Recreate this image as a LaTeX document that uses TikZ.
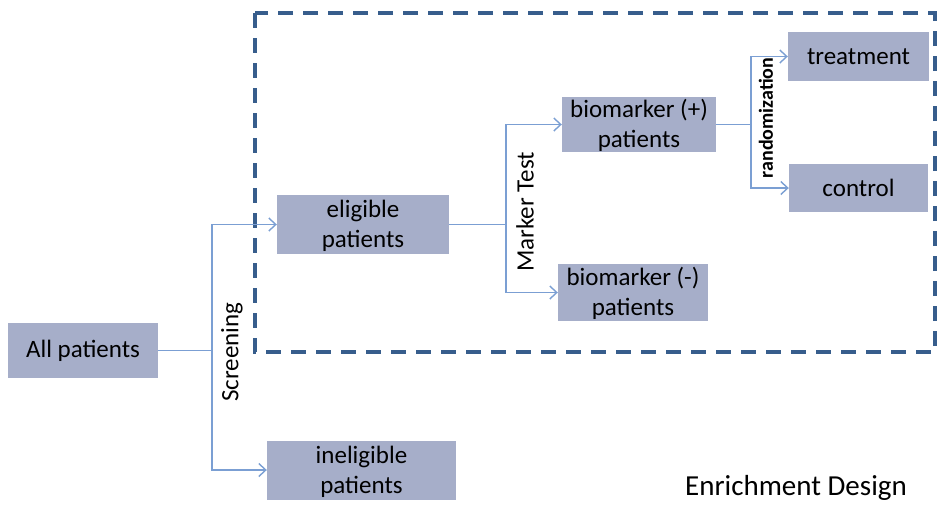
\documentclass[tikz,border=0pt]{standalone}
\usepackage{fontspec}
\setmainfont{Carlito}
\usetikzlibrary{arrows.meta}
\definecolor{boxfill}{HTML}{A6AEC9}
\definecolor{linkblue}{HTML}{7B9FD3}
\definecolor{frameblue}{HTML}{375D8C}
\tikzset{
  group/.style={fill=boxfill, align=center, inner sep=0pt, font=\fontsize{25}{30}\selectfont},
  link/.style={draw=linkblue, line width=1.4pt},
  linkarrow/.style={link, -{Straight Barb[length=7pt,width=13pt]}},
  steplabel/.style={rotate=90, font=\fontsize{25}{28}\selectfont}
}
\begin{document}
\begin{tikzpicture}[x=1pt,y=-1pt]
\useasboundingbox (0,0) rectangle (941,504);
% enrichment frame
\draw[frameblue, line width=3.2pt, dash pattern=on 15pt off 10pt] (255,13) rectangle (935,352);
% groups of patients
\node[group, minimum width=150pt, minimum height=55pt] (all) at (83,350.5) {All patients};
\node[group, minimum width=172pt, minimum height=59pt] (elig) at (363,224.5) {\strut eligible\\patients};
\node[group, minimum width=189pt, minimum height=59pt] (inel) at (361.5,470) {\strut ineligible\\patients};
\node[group, minimum width=154pt, minimum height=55pt] (bmp) at (639,124.5) {\strut biomarker (+)\\patients};
\node[group, minimum width=150pt, minimum height=57pt] (bmm) at (633,292.5) {\strut biomarker (-)\\patients};
\node[group, minimum width=141pt, minimum height=49pt] (treat) at (858.5,56.5) {treatment};
\node[group, minimum width=139pt, minimum height=48pt] (ctrl) at (858.5,188) {control};
% screening
\coordinate (scr) at (212,350.5);
\draw[link] (all.east) -- (scr);
\draw[linkarrow] (scr) |- (elig.west);
\draw[linkarrow] (scr) |- (inel.west);
\node[steplabel] (scrlbl) at (232,352) {Screening};
% marker test
\coordinate (mk) at (506,224.5);
\draw[link] (elig.east) -- (mk);
\draw[linkarrow] (mk) |- (bmp.west);
\draw[linkarrow] (mk) |- (bmm.west);
\node[steplabel] (mklbl) at (525,212) {Marker Test};
% randomization
\coordinate (rd) at (751,124.5);
\draw[link] (bmp.east) -- (rd);
\draw[linkarrow] (rd) |- (treat.west);
\draw[linkarrow] (rd) |- (ctrl.west);
\node[rotate=90, font=\fontsize{20}{22}\bfseries] (rdlbl) at (766,118) {randomization};
% title
\node[font=\fontsize{29}{32}\selectfont] (title) at (796,488) {Enrichment Design};
\end{tikzpicture}
\end{document}
